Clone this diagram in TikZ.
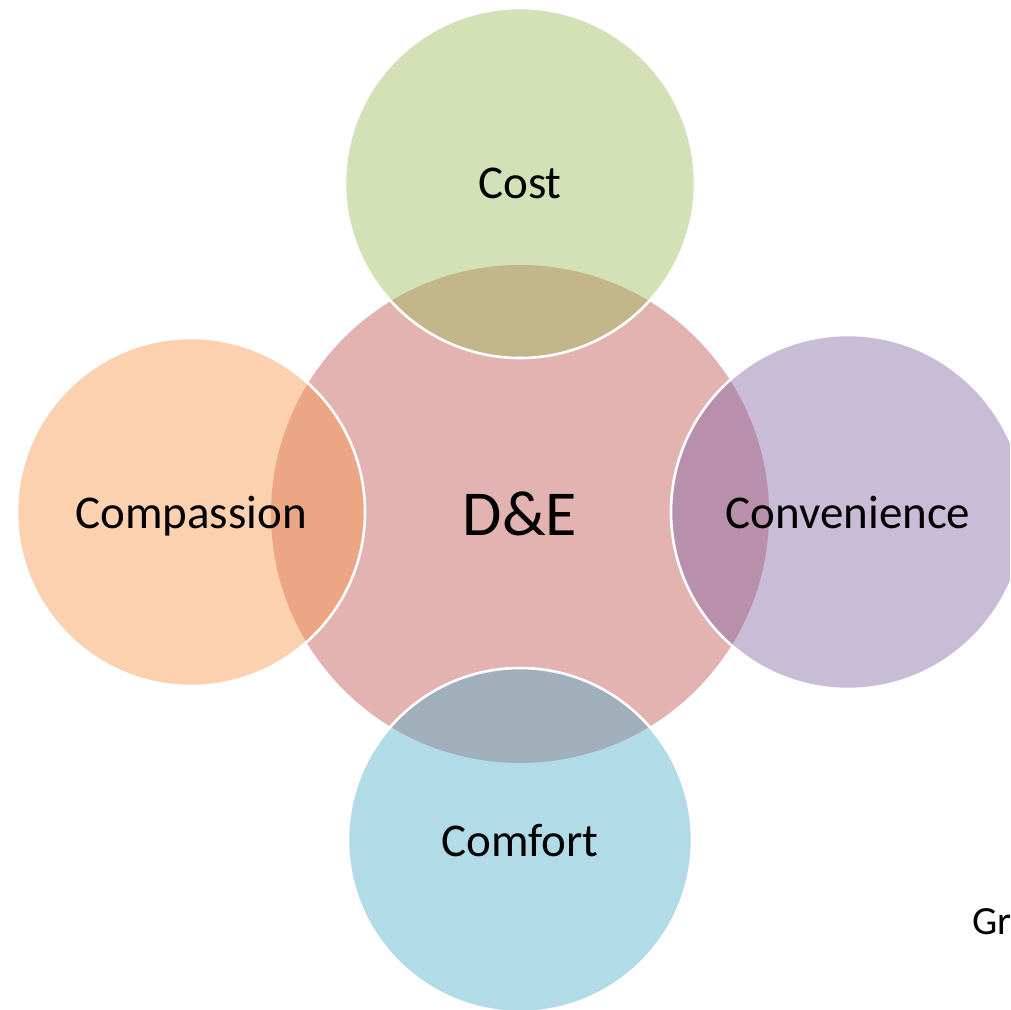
\documentclass[tikz,border=0pt]{standalone}
\usepackage{fontspec}
\setmainfont{Carlito}
\definecolor{cred}{HTML}{C0504D}
\definecolor{cgreen}{HTML}{9BBB59}
\definecolor{corange}{HTML}{F79646}
\definecolor{cpurple}{HTML}{8064A2}
\definecolor{caqua}{HTML}{4BACC6}
\tikzset{
  bubble/.style={circle, inner sep=0pt, fill opacity=0.43, text opacity=1,
    font=\fontsize{47}{56}\selectfont, text=black, text depth=0pt},
  outer/.style={bubble, draw=white, draw opacity=1, line width=2.6pt},
}
\begin{document}
\begin{tikzpicture}[x=1pt,y=-1pt]
\clip (0,0) rectangle (1010,1010);
\fill[white] (0,0) rectangle (1010,1010);
\node[bubble, fill=cred, minimum size=498pt, font=\fontsize{64}{74}\selectfont] (de) at (520,514) {D\&E};
\node[outer, fill=cgreen, minimum size=350pt] (cost) at (520,183) {Cost};
\node[outer, fill=corange, minimum size=348pt] (compassion) at (191,512) {Compassion};
\node[outer, fill=cpurple, minimum size=354pt] (convenience) at (848,512) {Convenience};
\node[outer, fill=caqua, minimum size=344pt] (comfort) at (520,840) {Comfort};
\node[anchor=west, inner sep=0pt, font=\fontsize{40}{48}\selectfont] (gr) at (972,922) {Gr};
\end{tikzpicture}
\end{document}
